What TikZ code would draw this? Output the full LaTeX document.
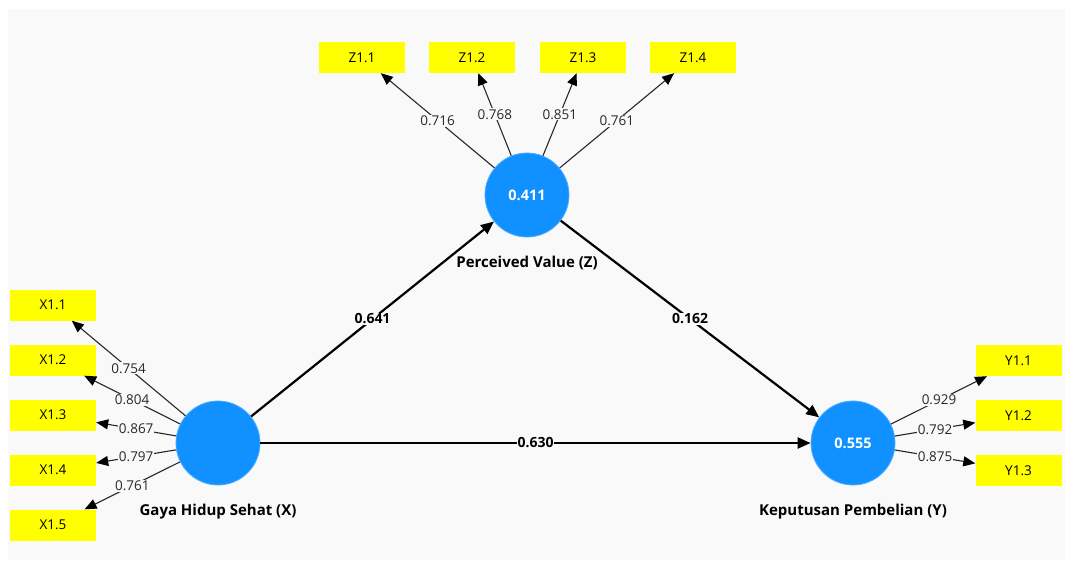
\documentclass[tikz,border=0pt]{standalone}
\usepackage{fontspec}
\setmainfont{Open Sans}
\usetikzlibrary{arrows.meta,positioning}
\definecolor{plsBlue}{RGB}{17,145,255}
\definecolor{plsYellow}{RGB}{255,255,0}
\definecolor{plsBack}{RGB}{249,249,249}
\definecolor{plsLine}{RGB}{40,40,40}

\begin{document}
\begin{tikzpicture}[
      x=1pt, y=-1pt,
      lv/.style={circle, fill=plsBlue, draw=plsBlue!75!white, line width=0.8pt, minimum size=84pt, inner sep=0pt, text=white, font=\bfseries\fontsize{14.5}{17}\selectfont},
      ind/.style={fill=plsYellow, minimum width=86pt, minimum height=31pt, inner sep=0pt, font=\fontsize{13.5}{16}\selectfont},
      lvname/.style={inner sep=0pt, font=\bfseries\fontsize{15}{18}\selectfont},
      loadarrow/.style={-{Triangle[length=12pt,width=10pt,color=black]}, plsLine, line width=1.1pt},
      structarrow/.style={-{Triangle[length=13pt,width=11pt]}, black, line width=2.2pt},
      wt/.style={fill=plsBack, inner sep=1pt, text=plsLine, font=\fontsize{13.5}{16}\selectfont},
      coef/.style={fill=plsBack, inner sep=1pt, text=black, font=\bfseries\fontsize{14}{17}\selectfont}
    ]
      % canvas
      \fill[white] (0,0) rectangle (1065,560);
      \fill[plsBack] (8,9) rectangle (1065,560);

      % latent variables
      \node[lv] (gx) at (218,443) {};
      \node[lv] (pz) at (527,195) {0.411};
      \node[lv] (ky) at (853,443) {0.555};
      \node[lvname, below=18pt of gx] (gxname) {Gaya Hidup Sehat (X)};
      \node[lvname, below=18pt of pz] (pzname) {Perceived Value (Z)};
      \node[lvname, below=18pt of ky] (kyname) {Keputusan Pembelian (Y)};

      % indicators
      \node[ind] (x11) at (53,305) {X1.1};
      \node[ind] (x12) at (53,360) {X1.2};
      \node[ind] (x13) at (53,415) {X1.3};
      \node[ind] (x14) at (53,470) {X1.4};
      \node[ind] (x15) at (53,525) {X1.5};
      \node[ind] (z11) at (362,57.5) {Z1.1};
      \node[ind] (z12) at (472,57.5) {Z1.2};
      \node[ind] (z13) at (583,57.5) {Z1.3};
      \node[ind] (z14) at (693,57.5) {Z1.4};
      \node[ind] (y11) at (1018.5,360.5) {Y1.1};
      \node[ind] (y12) at (1018.5,415.5) {Y1.2};
      \node[ind] (y13) at (1018.5,470.5) {Y1.3};

      % outer loadings
      \draw[loadarrow] (gx) -- node[wt] {0.754} (x11);
      \draw[loadarrow] (gx) -- node[wt] {0.804} (x12);
      \draw[loadarrow] (gx) -- node[wt] {0.867} (x13);
      \draw[loadarrow] (gx) -- node[wt] {0.797} (x14);
      \draw[loadarrow] (gx) -- node[wt] {0.761} (x15);
      \draw[loadarrow] (pz) -- node[wt] {0.716} (z11);
      \draw[loadarrow] (pz) -- node[wt] {0.768} (z12);
      \draw[loadarrow] (pz) -- node[wt] {0.851} (z13);
      \draw[loadarrow] (pz) -- node[wt] {0.761} (z14);
      \draw[loadarrow] (ky) -- node[wt] {0.929} (y11);
      \draw[loadarrow] (ky) -- node[wt] {0.792} (y12);
      \draw[loadarrow] (ky) -- node[wt] {0.875} (y13);

      % path coefficients
      \draw[structarrow] (gx) -- node[coef] {0.641} (pz);
      \draw[structarrow] (pz) -- node[coef] {0.162} (ky);
      \draw[structarrow] (gx) -- node[coef] {0.630} (ky);
    \end{tikzpicture}
\end{document}
